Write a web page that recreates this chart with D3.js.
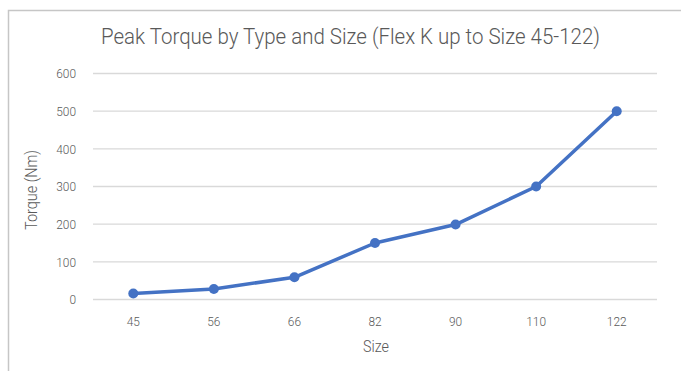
<!DOCTYPE html>
<html><head><meta charset="utf-8">
<script src="https://cdn.jsdelivr.net/npm/d3@7"></script>
<style>body{margin:0;background:#fff}svg{display:block}text{font-family:Roboto,"Liberation Sans",sans-serif;font-weight:300;fill:#595959}</style>
</head><body><svg id="c" width="681" height="371"></svg>
<script>
const categories = ["45","56","66","82","90","110","122"];
const torque = [16, 28, 59, 150, 199, 300, 500];
const yTicks = [0,100,200,300,400,500,600];

const svg = d3.select("#c");
svg.append("rect").attr("x",8.5).attr("y",10.5).attr("width",700).attr("height",400)
  .attr("fill","#fff").attr("stroke","#c6c6c6").attr("stroke-width",1.5);

const x = d3.scaleBand().domain(categories).range([93,657]);
const y = d3.scaleLinear().domain([0,600]).range([299.5,73.5]);

// narrow look: compress glyphs horizontally
function narrow(sel, f){
  sel.each(function(){
    const w = this.getComputedTextLength();
    d3.select(this).attr("textLength", w*f).attr("lengthAdjust","spacingAndGlyphs");
  });
}

svg.append("g").selectAll("line").data(yTicks).join("line")
  .attr("x1",93).attr("x2",657).attr("y1",d=>y(d)).attr("y2",d=>y(d))
  .attr("stroke","#d9d9d9").attr("stroke-width",1.3);

const ya = svg.append("g").attr("transform","translate(93,0)")
  .call(d3.axisLeft(y).tickValues(yTicks).tickSize(0).tickPadding(17));
ya.select(".domain").remove();
ya.attr("font-family",null);
ya.selectAll("text").attr("font-size",13.5).style("fill","#595959");
narrow(ya.selectAll("text"), 0.88);

const xa = svg.append("g").attr("transform","translate(0,299.5)")
  .call(d3.axisBottom(x).tickSize(0).tickPadding(17));
xa.select(".domain").remove();
xa.attr("font-family",null);
xa.selectAll("text").attr("font-size",13.5).style("fill","#595959");
narrow(xa.selectAll("text"), 0.88);

const cx = d=>x(d)+x.bandwidth()/2;
const line = d3.line().x((d,i)=>cx(categories[i])).y(d=>y(d));
svg.append("path").datum(torque).attr("d",line).attr("fill","none")
  .attr("stroke","#4472c4").attr("stroke-width",3.5).attr("stroke-linejoin","round");
svg.selectAll("circle").data(torque).join("circle")
  .attr("cx",(d,i)=>cx(categories[i])).attr("cy",d=>y(d)).attr("r",5).attr("fill","#4472c4");

// title, squeezed to a condensed look by a horizontal scale
const tg = svg.append("g");
const tt = tg.append("text").attr("x",0).attr("y",0).attr("text-anchor","middle")
  .attr("font-size",22).text("Peak Torque by Type and Size (Flex K up to Size 45-122)");
const tw = tt.node().getComputedTextLength();
tg.attr("transform",`translate(350.5,44) scale(${499/tw},1)`);

svg.append("text").attr("x",376).attr("y",352).attr("text-anchor","middle")
  .attr("font-size",17).attr("textLength",26).attr("lengthAdjust","spacingAndGlyphs").text("Size");
svg.append("text").attr("transform","translate(37,190) rotate(-90)").attr("text-anchor","middle")
  .attr("font-size",16).attr("textLength",80).attr("lengthAdjust","spacingAndGlyphs").text("Torque (Nm)");
</script></body></html>
